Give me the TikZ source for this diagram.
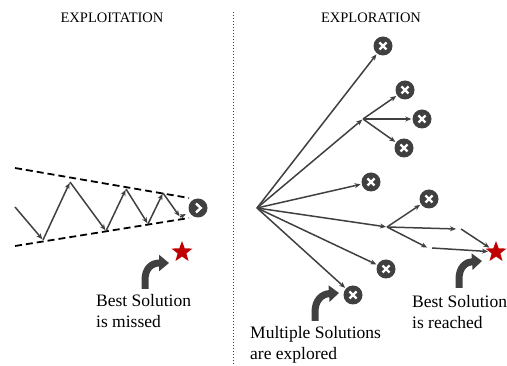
\documentclass[tikz,border=0pt]{standalone}
\usepackage{fontspec}
\setmainfont{Liberation Serif}
\usetikzlibrary{arrows.meta,shapes.geometric}
\definecolor{icongray}{HTML}{404040}
\definecolor{starred}{HTML}{C00000}
\tikzset{
  move/.style={icongray,line width=1.5pt,-{Stealth[length=6pt,width=5pt]},shorten >=1pt},
  bound/.style={black,line width=1.8pt,dash pattern=on 7pt off 4pt},
  failnode/.style={circle,fill=icongray,minimum size=19pt,inner sep=0pt,
    path picture={\draw[white,line width=2.2pt]
      ([xshift=-3.5pt,yshift=-3.5pt]path picture bounding box.center) -- ([xshift=3.5pt,yshift=3.5pt]path picture bounding box.center)
      ([xshift=-3.5pt,yshift=3.5pt]path picture bounding box.center) -- ([xshift=3.5pt,yshift=-3.5pt]path picture bounding box.center);}},
  goalnode/.style={circle,fill=icongray,minimum size=19pt,inner sep=0pt,
    path picture={\draw[white,line width=2.4pt]
      ([xshift=-2pt,yshift=4.5pt]path picture bounding box.center) -- ([xshift=2.8pt]path picture bounding box.center) -- ([xshift=-2pt,yshift=-4.5pt]path picture bounding box.center);}},
  bestnode/.style={star,star points=5,star point ratio=2.4,fill=starred,minimum size=22pt,inner sep=0pt},
  bigarrow/.style={icongray,line width=7pt,-{Triangle[length=10pt,width=16pt]}},
  title/.style={font=\fontsize{14.5}{17}\selectfont},
  caption/.style={font=\fontsize{17.5}{21}\selectfont,align=left,anchor=north west,inner sep=0pt}
}
\begin{document}
\begin{tikzpicture}[x=1pt,y=-1pt]
  \useasboundingbox (0,0) rectangle (507,366);
  % titles and divider
  \node[title] (titleL) at (112,18) {EXPLOITATION};
  \node[title] (titleR) at (371,18) {EXPLORATION};
  \draw[icongray,line width=1pt,dotted] (233,12) -- (233,366);

  % exploitation: narrowing search
  \node[goalnode] (goal) at (198,208) {};
  \draw[bound] (15,168) -- (189,198);
  \draw[bound] (15,246) -- (189,218);
  \coordinate (z0) at (15,207);
  \coordinate (z1) at (43,240);
  \coordinate (z2) at (70,182);
  \coordinate (z3) at (106,231);
  \coordinate (z4) at (126,189);
  \coordinate (z5) at (148,224);
  \coordinate (z6) at (163,193);
  \coordinate (z7) at (180,217);
  \foreach \a/\b in {z0/z1,z1/z2,z2/z3,z3/z4,z4/z5,z5/z6,z6/z7}
    \draw[move] (\a) -- (\b);
  \draw[move,shorten >=4pt] (z7) -- (goal);
  \node[bestnode] (starL) at (182,252) {};
  \draw[bigarrow] (145,289) -- (145,280) .. controls (145,268) and (152,263) .. (169,263);
  \node[caption] (missed) at (96,294) {Best Solution\\is missed};

  % exploration: many branches
  \coordinate (o) at (257,208);
  \coordinate (b1) at (363,119);
  \coordinate (b2) at (387,227);
  \coordinate (m1) at (457,229);
  \coordinate (m2) at (428,248);
  \node[failnode] (f1) at (383,46) {};
  \node[failnode] (f2) at (405,90) {};
  \node[failnode] (f3) at (422,119) {};
  \node[failnode] (f4) at (404,148) {};
  \node[failnode] (f5) at (371,182) {};
  \node[failnode] (f6) at (429,199) {};
  \node[failnode] (f7) at (386,269) {};
  \node[failnode] (f8) at (353,295) {};
  \node[bestnode] (starR) at (496,252) {};
  \foreach \t in {f1,b1,f5,b2,f7,f8}
    \draw[move] (o) -- (\t);
  \foreach \t in {f2,f3,f4}
    \draw[move] (b1) -- (\t);
  \foreach \t in {f6,m1,m2}
    \draw[move] (b2) -- (\t);
  \draw[move] ([xshift=4pt]m1) -- (starR);
  \draw[move] ([xshift=4pt]m2) -- (starR);
  \draw[bigarrow] (459,288) -- (459,279) .. controls (459,267) and (466,262) .. (482,261);
  \draw[bigarrow] (315,321) -- (315,312) .. controls (315,300) and (322,294) .. (339,293);
  \node[caption] (reached) at (412,295) {Best Solution\\is reached};
  \node[caption] (explored) at (250,326) {Multiple Solutions\\are explored};
\end{tikzpicture}
\end{document}
